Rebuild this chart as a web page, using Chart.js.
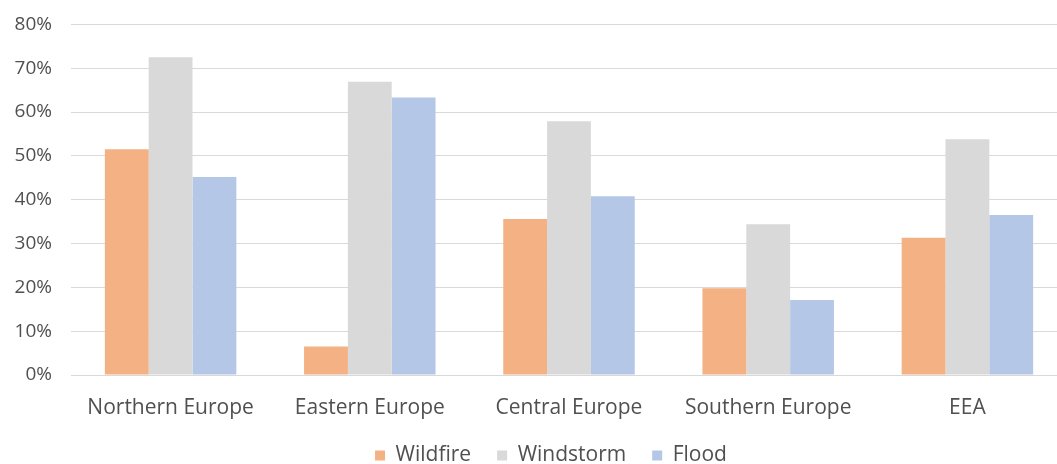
<!DOCTYPE html>
<html>
<head>
<meta charset="utf-8">
<script src="https://cdn.jsdelivr.net/npm/chart.js@4.4.1/dist/chart.umd.min.js"></script>
<style>
  html, body { margin: 0; padding: 0; background: #ffffff; overflow: hidden; width: 1057px; height: 464px; position: relative; }
  #wrap { position: absolute; left: 0; top: -6px; width: 1102px; height: 482px; }
</style>
</head>
<body>
<div id="wrap"><canvas id="c" width="1102" height="482"></canvas></div>
<script>
const categories = ["Northern Europe", "Eastern Europe", "Central Europe", "Southern Europe", "EEA"];
const wildfire  = [51.5, 6.5, 35.6, 19.8, 31.3];
const windstorm = [72.5, 66.9, 57.9, 34.4, 53.8];
const flood     = [45.2, 63.3, 40.8, 17.1, 36.5];
const yTicks = [0, 10, 20, 30, 40, 50, 60, 70, 80];

const FONT = "'Open Sans', 'Liberation Sans', sans-serif";
const TXT = '#505050';

new Chart(document.getElementById('c'), {
  type: 'bar',
  data: {
    labels: categories,
    datasets: [
      { label: 'Wildfire',  data: wildfire,  backgroundColor: '#F4B183' },
      { label: 'Windstorm', data: windstorm, backgroundColor: '#D9D9D9' },
      { label: 'Flood',     data: flood,     backgroundColor: '#B4C7E7' }
    ]
  },
  options: {
    responsive: false,
    animation: false,
    devicePixelRatio: 1,
    layout: { padding: { top: 0, left: 0, right: 0, bottom: 0 } },
    datasets: { bar: { categoryPercentage: 0.66, barPercentage: 1.0, borderWidth: 0 } },
    plugins: {
      tooltip: { enabled: false },
      legend: {
        position: 'bottom',
        labels: {
          boxWidth: 10, boxHeight: 10, padding: 26,
          color: TXT,
          font: { family: FONT, size: 21 }
        }
      }
    },
    scales: {
      x: {
        grid: { display: false, drawTicks: false },
        border: { display: true, color: '#D9D9D9', width: 1 },
        ticks: { color: TXT, padding: 20, font: { family: FONT, size: 21 }, maxRotation: 0 },
        afterFit: (s) => { s.height = 44; }
      },
      y: {
        min: 0, max: 80,
        afterBuildTicks: (s) => { s.ticks = yTicks.map(v => ({ value: v })); },
        grid: { color: '#D9D9D9', lineWidth: 1, drawTicks: false },
        border: { display: false },
        ticks: { color: TXT, padding: 19, font: { family: FONT, size: 19 }, callback: (v) => v + '%' },
        afterFit: (s) => { s.width = 71; }
      },
      yRightSpacer: {
        type: 'linear',
        position: 'right',
        min: 0, max: 80,
        grid: { display: false, drawTicks: false },
        border: { display: false },
        ticks: { display: false },
        afterFit: (s) => { s.width = 35; }
      }
    }
  }
});
</script>
</body>
</html>
